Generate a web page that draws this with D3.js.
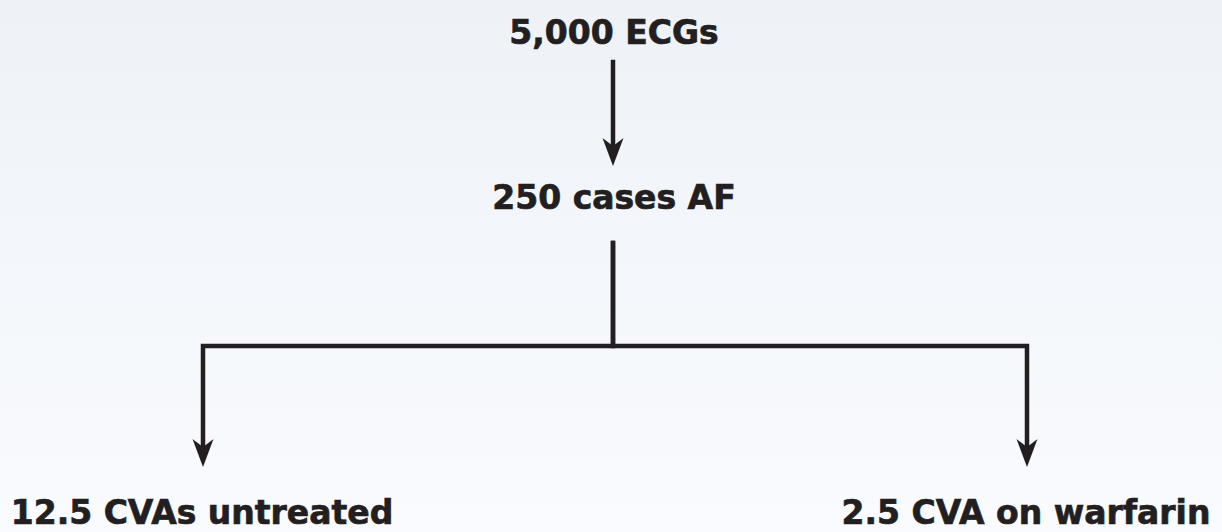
<!DOCTYPE html>
<html>
<head>
<meta charset="utf-8">
<title>AF flow</title>
<script src="https://cdn.jsdelivr.net/npm/d3@7"></script>
<style>
	body, html { margin: 0; padding: 0; overflow: hidden; }
	svg { display: block; }
	.label { font: bold 33px "DejaVu Sans", sans-serif; fill: #231f20; stroke: #231f20; stroke-width: 0.7px; }
</style>
</head>
<body>
<svg id="Chart"></svg>
<script>
	// nodes of the flow, top to bottom
	var labels = ["5,000 ECGs", "250 cases AF", "12.5 CVAs untreated", "2.5 CVA on warfarin"];
	var tiers = [0, 1, 2, 2];
	var columns = ["center", "center", "left", "right"];
	// parent -> child
	var links = [[0, 1], [1, 2], [1, 3]];

	var W = 1222, H = 532, INK = "#231f20";

	var svg = d3.select("#Chart").attr("width", W).attr("height", H);

	var grad = svg.append("defs").append("linearGradient")
		.attr("id", "bg").attr("x1", 0).attr("y1", 0).attr("x2", 0).attr("y2", 1);
	grad.append("stop").attr("offset", "0%").attr("stop-color", "#eef2f7");
	grad.append("stop").attr("offset", "100%").attr("stop-color", "#f9fbfe");
	svg.append("rect").attr("width", W).attr("height", H).attr("fill", "url(#bg)");

	var x = d3.scalePoint().domain(["left", "center", "right"]).range([203, 1027]);
	// text baselines per tier
	var y = d3.scaleOrdinal().domain([0, 1, 2]).range([44, 209, 524]);

	var capH = 23;

	// links
	var g = svg.append("g");
	links.forEach(function(l) {
		var p = l[0], c = l[1];
		var x0 = x(columns[p]) - 2, x1 = x(columns[c]) - (columns[c] === "center" ? 2 : 0);
		var straight = columns[p] === columns[c];
		var yStart = y(tiers[p]) + (straight ? 18 : 34);
		var yTip = y(tiers[c]) - capH - (straight ? 20 : 34);
		var yElbow = y(tiers[p]) + 137;
		var path = d3.path();
		if (straight) {
			path.moveTo(x1, yStart);
			path.lineTo(x1, yTip - 18);
		} else {
			path.moveTo(x0, yStart);
			path.lineTo(x0, yElbow);
			path.moveTo(x0, yElbow);
			path.lineTo(x1, yElbow);
			path.lineTo(x1, yTip - 18);
		}
		g.append("path")
			.attr("d", path.toString())
			.attr("fill", "none")
			.attr("stroke", INK)
			.attr("stroke-width", 4.5)
			.attr("stroke-linejoin", "miter")
			.attr("stroke-linecap", "square");
		g.append("path")
			.attr("d", "M0,0L-10.5,-28L0,-20L10.5,-28Z")
			.attr("transform", "translate(" + x1 + "," + yTip + ")")
			.attr("fill", INK);
	});

	// labels, centred on their arrows
	svg.selectAll("text.label")
		.data(labels)
	  .enter().append("text")
		.attr("class", "label")
		.attr("text-anchor", "middle")
		.attr("x", function(d, i) { return x(columns[i]) - 1; })
		.attr("y", function(d, i) { return y(tiers[i]); })
		.text(function(d) { return d; });
</script>
</body>
</html>
